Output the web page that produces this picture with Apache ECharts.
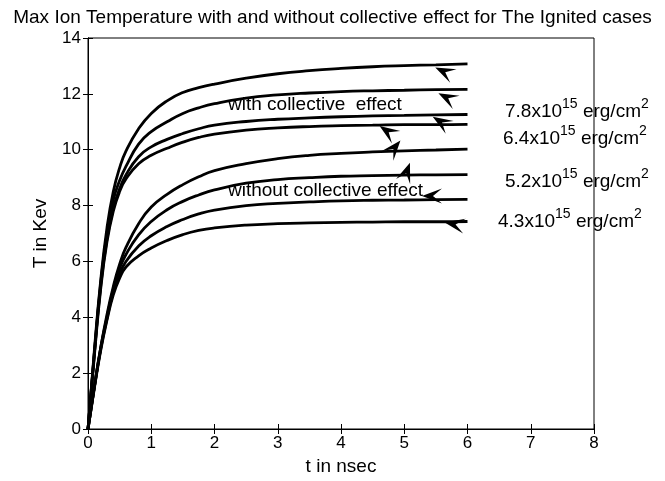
<!DOCTYPE html>
<html>
<head>
<meta charset="utf-8">
<script src="https://cdn.jsdelivr.net/npm/echarts@6/dist/echarts.min.js"></script>
<style>
  html, body { margin: 0; padding: 0; background: #fff; }
  #chart { width: 665px; height: 481px; }
</style>
</head>
<body>
<div id="chart"></div>
<script>
// time axis (nsec)
const tNs = [0, 0.1, 0.2, 0.3, 0.4, 0.5, 0.6, 0.8, 1.0, 1.25, 1.5, 1.75, 2, 2.5, 3, 3.5, 4, 4.5, 5, 5.5, 6];

// with collective effect (keV)
const withA = [0, 2.8, 5.3, 7.2, 8.5, 9.35, 9.95, 10.75, 11.3, 11.75, 12.05, 12.22, 12.35, 12.56, 12.72, 12.83, 12.91, 12.97, 13.01, 13.04, 13.07];
const withB = [0, 2.7, 5.2, 7.0, 8.2, 8.9, 9.4, 10.2, 10.65, 11.0, 11.3, 11.5, 11.65, 11.85, 11.96, 12.03, 12.08, 12.11, 12.13, 12.15, 12.16];
const withC = [0, 2.7, 5.1, 6.8, 7.9, 8.6, 9.1, 9.75, 10.1, 10.37, 10.58, 10.75, 10.88, 11.01, 11.09, 11.14, 11.18, 11.21, 11.23, 11.25, 11.26];
const withD = [0, 2.6, 5.0, 6.7, 7.8, 8.5, 8.95, 9.5, 9.8, 10.05, 10.27, 10.44, 10.56, 10.7, 10.78, 10.83, 10.86, 10.88, 10.9, 10.9, 10.91];

// without collective effect (keV)
const withoutA = [0, 1.5, 2.9, 4.1, 5.1, 5.9, 6.5, 7.35, 7.95, 8.4, 8.75, 9.03, 9.25, 9.5, 9.68, 9.8, 9.87, 9.92, 9.96, 9.99, 10.02];
const withoutB = [0, 1.5, 2.9, 4.0, 5.0, 5.75, 6.25, 6.95, 7.43, 7.85, 8.15, 8.38, 8.56, 8.8, 8.93, 9.0, 9.05, 9.07, 9.09, 9.1, 9.11];
const withoutC = [0, 1.5, 2.85, 3.95, 4.9, 5.55, 6.0, 6.55, 6.92, 7.25, 7.5, 7.7, 7.84, 8.0, 8.08, 8.13, 8.17, 8.19, 8.2, 8.21, 8.22];
const withoutD = [0, 1.45, 2.8, 3.9, 4.8, 5.4, 5.8, 6.2, 6.48, 6.75, 6.96, 7.11, 7.2, 7.3, 7.35, 7.38, 7.4, 7.41, 7.42, 7.42, 7.43];

const curves = [withA, withB, withC, withD, withoutA, withoutB, withoutC, withoutD];

// annotation arrowheads: tip position (t, T) and pointing angle in degrees
const arrowT = [5.49, 5.54, 5.45, 4.61, 4.94, 5.09, 5.28, 5.64];
const arrowK = [12.94, 12.02, 11.18, 10.85, 10.33, 9.53, 8.34, 7.39];
const arrowAngle = [155, 153, 148, 146, 50, 70, 180, 170];

// laser fluence labels (x10^15 erg/cm^2)
const fluence = ['7.8', '6.4', '5.2', '4.3'];

const FONT = 'Liberation Sans, Arial, Helvetica, sans-serif';

const dom = document.getElementById('chart');
const chart = echarts.init(dom);

const lineSeries = curves.map((vals, i) => ({
  type: 'line',
  name: 'curve' + i,
  data: tNs.map((t, j) => [t, vals[j]]),
  smooth: 0.5,
  symbol: 'none',
  lineStyle: { color: '#000', width: 2.8 },
  silent: true,
  animation: false
}));

const arrowSeries = {
  type: 'custom',
  data: arrowT.map((t, i) => [t, arrowK[i], arrowAngle[i]]),
  clip: false,
  silent: true,
  animation: false,
  renderItem(params, api) {
    const tip = api.coord([api.value(0), api.value(1)]);
    const a = api.value(2) * Math.PI / 180;
    const dx = Math.cos(a), dy = -Math.sin(a);
    const bx = -dx, by = -dy;      // backwards
    const px = -by, py = bx;       // perpendicular
    const L = 20, W = 7.5;
    const pts = [
      tip,
      [tip[0] + bx * L + px * W, tip[1] + by * L + py * W],
      [tip[0] + bx * L * 0.55, tip[1] + by * L * 0.55],
      [tip[0] + bx * L - px * W, tip[1] + by * L - py * W]
    ];
    return { type: 'polygon', shape: { points: pts }, style: { fill: '#000' } };
  }
};

const richLabel = {
  n: { fontSize: 19, fontFamily: FONT, color: '#000', lineHeight: 24, verticalAlign: 'bottom' },
  s: { fontSize: 14, fontFamily: FONT, color: '#000', lineHeight: 24, verticalAlign: 'top' }
};
const fluenceTop = [97, 124, 167, 207];
const fluenceLeft = [505, 503, 505, 498];

const option = {
  backgroundColor: '#fff',
  animation: false,
  title: {
    text: 'Max Ion Temperature with and without collective effect for The Ignited cases',
    left: 'center',
    top: 3,
    textStyle: { fontFamily: FONT, fontSize: 19, fontWeight: 'normal', color: '#000' }
  },
  grid: { left: 88, right: 71, top: 38, bottom: 50, show: true, borderColor: '#000', borderWidth: 1 },
  xAxis: [
    {
      type: 'value', min: 0, max: 8, interval: 1,
      name: 't in nsec', nameLocation: 'middle', nameGap: 28,
      nameTextStyle: { fontFamily: FONT, fontSize: 19, color: '#000' },
      axisLine: { show: true, lineStyle: { color: '#000', width: 1 } },
      axisTick: { show: true, inside: true, length: 5, lineStyle: { color: '#000' } },
      axisLabel: { fontFamily: FONT, fontSize: 17, color: '#000', margin: 6 },
      splitLine: { show: false }
    },
    {
      type: 'value', min: 0, max: 8, interval: 1, position: 'top',
      axisLine: { show: true, lineStyle: { color: '#000', width: 1 } },
      axisTick: { show: true, inside: true, length: 5, lineStyle: { color: '#000' } },
      axisLabel: { show: false }, splitLine: { show: false }
    }
  ],
  yAxis: [
    {
      type: 'value', min: 0, max: 14, interval: 2,
      name: 'T in Kev', nameLocation: 'middle', nameGap: 38,
      nameTextStyle: { fontFamily: FONT, fontSize: 19, color: '#000' },
      axisLine: { show: true, lineStyle: { color: '#000', width: 1 } },
      axisTick: { show: true, inside: true, length: 5, lineStyle: { color: '#000' } },
      axisLabel: { fontFamily: FONT, fontSize: 17, color: '#000', margin: 7 },
      splitLine: { show: false }
    },
    {
      type: 'value', min: 0, max: 14, interval: 2, position: 'right',
      axisLine: { show: true, lineStyle: { color: '#000', width: 1 } },
      axisTick: { show: true, inside: true, length: 5, lineStyle: { color: '#000' } },
      axisLabel: { show: false }, splitLine: { show: false }
    }
  ],
  graphic: [
    { type: 'text', left: 228, top: 95, style: { text: 'with collective  effect', font: '19px ' + FONT, fill: '#000' } },
    { type: 'text', left: 228, top: 181, style: { text: 'without collective effect', font: '19px ' + FONT, fill: '#000' } }
  ].concat(fluence.map((f, i) => ({
    type: 'text', left: fluenceLeft[i], top: fluenceTop[i],
    style: { text: '{n|' + f + 'x10}{s|15}{n| erg/cm}{s|2}', rich: richLabel }
  }))),
  series: lineSeries.concat([arrowSeries])
};

chart.setOption(option);
window.addEventListener('resize', () => chart.resize());
</script>
</body>
</html>
